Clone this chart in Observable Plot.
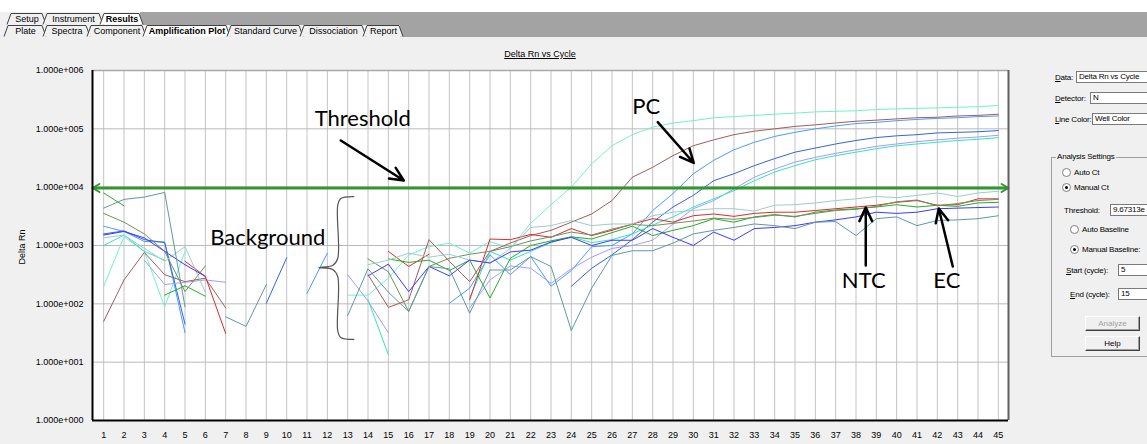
<!DOCTYPE html>
<html>
<head>
<meta charset="utf-8">
<script src="https://cdn.jsdelivr.net/npm/d3@7"></script>
<script src="https://cdn.jsdelivr.net/npm/@observablehq/plot@0.6"></script>
<style>
html, body { margin:0; padding:0; width:1147px; height:444px; overflow:hidden; background:#f0f0f0; font-family:"Liberation Sans", Arial, sans-serif; }
#chart { position:absolute; left:0; top:0; }
#tabs { position:absolute; left:0; top:0; }
#title { position:absolute; left:440px; width:200px; top:49px; text-align:center; font-size:9px; text-decoration:underline; }
#ylab { position:absolute; left:-8px; width:60px; top:242px; text-align:center; font-size:9px; transform:rotate(-90deg); }
.lbl { position:absolute; font-size:8px; letter-spacing:-0.2px; line-height:11px; white-space:nowrap; }
.box { position:absolute; height:12px; background:#fff; border:1px solid #7a7a7a; border-right:none; box-sizing:border-box; font-size:8px; letter-spacing:-0.2px; line-height:10px; padding-left:2px; white-space:nowrap; overflow:hidden; }
.radio { position:absolute; width:7px; height:7px; border-radius:50%; background:#fff; border:1px solid #808080; }
.radio.on::after { content:""; position:absolute; left:2px; top:2px; width:3px; height:3px; border-radius:50%; background:#000; }
.btn { position:absolute; width:55px; height:15px; box-sizing:border-box; border:1px solid; border-color:#ffffff #404040 #404040 #ffffff; background:#f0f0f0; font-size:8px; line-height:13px; text-align:center; box-shadow: inset -1px -1px 0 #a0a0a0; }
#group { position:absolute; left:1051px; top:157px; width:100px; height:200px; border:1px solid #a0a0a0; border-right:none; box-sizing:border-box; }
u { text-decoration:underline; }
</style>
</head>
<body>
<div id="chart"></div>
<svg id="tabs" width="1147" height="40"></svg>
<div id="title">Delta Rn vs Cycle</div>
<div id="ylab">Delta Rn</div>

<div class="lbl" style="left:1055px;top:72px"><u>D</u>ata:</div>
<div class="box" style="left:1076px;top:71px;width:80px">Delta Rn vs Cycle</div>
<div class="lbl" style="left:1055px;top:93px"><u>D</u>etector:</div>
<div class="box" style="left:1090px;top:92px;width:70px">N</div>
<div class="lbl" style="left:1055px;top:114px"><u>L</u>ine Color:</div>
<div class="box" style="left:1092px;top:113px;width:70px">Well Color</div>

<div id="group"></div>
<div class="lbl" style="left:1056px;top:151px;background:#f0f0f0;padding:0 1px">Analysis Settings</div>
<div class="radio" style="left:1062px;top:168px"></div>
<div class="lbl" style="left:1074px;top:167px">Auto Ct</div>
<div class="radio on" style="left:1062px;top:183px"></div>
<div class="lbl" style="left:1074px;top:182px">Manual Ct</div>
<div class="lbl" style="left:1064px;top:205px">Threshold:</div>
<div class="box" style="left:1110px;top:204px;width:45px">9.67313e</div>
<div class="radio" style="left:1070px;top:225px"></div>
<div class="lbl" style="left:1082px;top:224px">Auto Baseline</div>
<div class="radio on" style="left:1070px;top:245px"></div>
<div class="lbl" style="left:1082px;top:244px">Manual Baseline:</div>
<div class="lbl" style="left:1066px;top:265px"><u>S</u>tart (cycle):</div>
<div class="box" style="left:1118px;top:264px;width:40px">5</div>
<div class="lbl" style="left:1070px;top:289px"><u>E</u>nd (cycle):</div>
<div class="box" style="left:1118px;top:288px;width:40px">15</div>
<div class="btn" style="left:1085px;top:316px;color:#a0a0a0">Analyze</div>
<div class="btn" style="left:1085px;top:336px">Help</div>

<script>
// ---------- data ----------
const cycles = d3.range(1, 46);

const seriesNames = ["PC well 1", "PC well 2", "PC well 3", "PC well 4", "PC well 5", "PC well 6",
  "NTC red", "EC green", "NTC olive", "EC pale teal", "NTC blue", "EC teal"];
const seriesColors = ["#6ff2cf", "#a35c5c", "#4a9cff", "#3565d8", "#9d9dff", "#36e3bd",
  "#dd2a2a", "#2aaa2a", "#6f8f5e", "#9ccccc", "#3a3aff", "#5f9a9c"];

const pc1 = [200, 1410, 790, 89, 790, null, null, null, null, null, null, null, 141, 141, 275, 690, 955, 1100, 740, 1170, 890, 2400, 5000, 10000, 25100, 51300, 79400, 107000, 126000, 138000, 155000, 162000, 170000, 178000, 186000, 195000, 200000, 204000, 214000, 219000, 224000, 229000, 234000, 240000, 251000];
const pc2 = [50, 257, 760, 316, 240, 275, 85, null, null, null, null, null, null, 316, 87, 117, 1260, 537, 240, 794, 1100, 1480, 1820, 2510, 3470, 5890, 14800, 21900, 34700, 51300, 64600, 79400, 91200, 100000, 110000, 117000, 126000, 135000, 141000, 148000, 155000, 158000, 166000, 170000, 178000];
const pc3 = [2140, 1740, 1170, 1150, 32, null, null, null, null, null, 151, 741, null, null, null, null, null, 102, 186, 692, 316, 646, 200, 372, 955, 1000, 1580, 3980, 7760, 17000, 28800, 43700, 58900, 74100, 87100, 100000, 112000, 123000, 129000, 138000, 145000, 151000, 155000, 162000, 166000];
const pc4 = [1580, 1780, 1260, 1120, 45, null, null, null, 102, 617, null, null, null, null, null, null, null, null, null, null, null, null, null, 200, 407, 692, 1260, 2510, 4570, 7240, 12900, 17000, 23400, 30900, 39800, 46800, 55000, 63100, 70800, 75900, 79400, 85100, 87100, 89100, 93300];
const pc5 = [null, null, 562, 214, 234, 257, 234, null, null, null, null, null, 316, 112, 32, null, null, null, 85, 257, 447, 407, 224, 398, 631, 891, 1000, 1230, 2340, 4270, 5890, 9330, 14800, 20400, 26900, 32400, 38000, 43700, 50100, 55000, 60300, 64600, 69200, 72400, 77600];
const pc6 = [1000, 1510, 794, 562, null, null, null, null, null, null, null, null, null, 117, 13.5, null, null, null, 126, 794, 562, 794, 1120, 1410, 1120, 1260, 1580, 2240, 3090, 4570, 6310, 8710, 12900, 18200, 23400, 29500, 34700, 39800, 45700, 51300, 55000, 58900, 63100, 66100, 70800];
const neg1 = [null, null, null, null, 537, 295, 31, null, null, null, null, null, null, null, 794, 437, 708, null, 117, 1290, 1260, 1550, 1380, 1950, 1480, 1820, 2340, 2880, 2510, 3240, 3470, 3160, 3550, 3720, 3720, 3980, 4270, 4570, 4900, 5500, 5890, 4900, 5010, 6310, 6310];
const neg2 = [7940, 4790, null, 141, 204, 135, null, null, null, null, null, null, null, null, 589, 513, 562, 372, 562, 126, 603, 1000, 1200, 1410, 1290, 1660, 2140, 1480, 1820, 2190, 2880, 2510, 3090, 3390, 3090, 3720, 4070, 4270, 4570, 5010, 4570, 4900, 4680, 5370, 5500];
const neg3 = [3550, 2510, 1580, 794, 162, 447, null, null, null, null, null, null, null, 589, 355, 74, 437, 603, 708, 794, 955, 1200, 1410, 1700, 1510, 1910, 2290, 2190, 2400, 2630, 2950, 2820, 3020, 3310, 3160, 3550, 3980, 4170, 4680, 5620, 6030, 4790, 5250, 5890, 6170];
const neg4 = [1350, 1510, 891, 537, 955, 158, null, null, null, null, null, null, null, 468, 562, 741, 631, 708, 562, 501, 891, 2040, 2190, 2690, 2190, 2340, 2340, 3240, 3720, 3980, 4270, 4270, 3890, 4900, 5010, 5370, 5890, 6310, 6920, 6610, 7240, 7940, 6920, 7940, 8510];
const neg5 = [1510, 1740, 1350, 794, 468, 295, null, null, null, null, null, null, null, 302, 479, 162, 437, 302, 562, 501, 776, 832, 1150, 1380, 1000, 1230, 1230, 1950, 1380, 1000, 1700, 1230, 1950, 2040, 2190, 2510, 2750, 3090, 3720, 3550, 3720, 4270, 4370, 4470, 4570];
const neg6 = [4370, 6170, 6760, 8130, 89, null, 60, 41, 214, null, null, null, 63, 398, 158, 74, 437, 398, 69, 380, 380, 646, 437, 35, 186, 676, 813, 813, 1100, 1580, 1820, 2040, 2340, 2190, 1950, 2510, 2570, 1480, 2880, 3090, 2190, 2690, 2750, 2880, 3240];

const yTicks = [1, 10, 100, 1000, 10000, 100000, 1000000];
const yTickLabels = ["1.000e+000", "1.000e+001", "1.000e+002", "1.000e+003", "1.000e+004", "1.000e+005", "1.000e+006"];
const thresholdValue = 9673.13;

// annotations (data coordinates: cycle, Delta Rn)
const noteLabels = ["Threshold", "PC", "Background", "NTC", "EC"];
const noteCycles = [13.74, 27.68, 9.07, 38.38, 42.47];
const noteValues = [150000, 237000, 1370, 251, 251];
const arrowX1 = [12.66, 28.25, 38.48, 42.76];
const arrowY1 = [63000, 130000, 454, 437];
const arrowX2 = [15.76, 30.02, 38.48, 42.07];
const arrowY2 = [13000, 26000, 4480, 4300];
const braceCycles = [13.30, 12.66, 12.51, 12.51, 12.26, 11.58, 12.26, 12.51, 12.51, 12.66, 13.30];
const braceValues = [6900, 6400, 4850, 598, 454, 420, 388, 294, 34.9, 26.5, 24.5];

// ---------- build ----------
const allSeries = [pc1, pc2, pc3, pc4, pc5, pc6, neg1, neg2, neg3, neg4, neg5, neg6];
const rows = allSeries.flatMap((vals, s) => vals.map((v, i) => ({series: seriesNames[s], cycle: cycles[i], value: v == null ? NaN : v})));
const notes = noteLabels.map((t, i) => ({text: t, x: noteCycles[i], y: noteValues[i]}));
const arrows = arrowX1.map((x, i) => ({x1: x, y1: arrowY1[i], x2: arrowX2[i], y2: arrowY2[i]}));
const brace = braceCycles.map((x, i) => ({x, y: braceValues[i]}));
const xDomain = [0.45, 45.5];
const yDomain = [1, 1e6];
const thrArrows = [
  {x1: 3, x2: xDomain[0], y: thresholdValue},
  {x1: 43, x2: xDomain[1], y: thresholdValue}
];

const chart = Plot.plot({
  width: 1040,
  height: 444,
  marginLeft: 92,
  marginRight: 32,
  marginTop: 70,
  marginBottom: 24,
  style: {background: "transparent", fontFamily: "Liberation Sans, Arial, sans-serif", fontSize: "9px", color: "#000", overflow: "visible"},
  x: {domain: xDomain},
  y: {type: "log", domain: yDomain},
  color: {domain: seriesNames, range: seriesColors},
  marks: [
    Plot.frame({fill: "#ffffff", stroke: "none"}),
    Plot.ruleX(cycles, {stroke: "#c3c3c3", strokeWidth: 1}),
    Plot.ruleY(yTicks, {stroke: "#b9b9b9", strokeWidth: 1}),
    Plot.line(rows, {x: "cycle", y: "value", z: "series", stroke: "series", strokeWidth: 1}),
    Plot.ruleY([thresholdValue], {stroke: "#33952f", strokeWidth: 3}),
    Plot.arrow(thrArrows, {x1: "x1", x2: "x2", y1: "y", y2: "y", stroke: "#33952f", strokeWidth: 2, headLength: 6}),
    Plot.arrow(arrows, {x1: "x1", y1: "y1", x2: "x2", y2: "y2", stroke: "#000", strokeWidth: 2.5, headLength: 9, headAngle: 50}),
    Plot.line(brace, {x: "x", y: "y", stroke: "#555", strokeWidth: 1.2, curve: "catmull-rom"}),
    Plot.text(notes, {x: "x", y: "y", text: "text", fontSize: 22, fontFamily: "Lato, 'Open Sans', sans-serif", fill: "#000", textAnchor: "middle", lineAnchor: "middle"}),
    Plot.ruleY([yDomain[1]], {stroke: "#a8a8a8", strokeWidth: 1.5}),
    Plot.ruleX([xDomain[1]], {stroke: "#606060", strokeWidth: 2}),
    Plot.ruleX([xDomain[0]], {stroke: "#000", strokeWidth: 2}),
    Plot.ruleY([yDomain[0]], {stroke: "#000", strokeWidth: 2}),
    Plot.axisX(cycles, {tickSize: 0, tickPadding: 11, tickFormat: d => String(d), label: null, fontSize: 9}),
    Plot.axisY(yTicks, {tickSize: 0, tickPadding: 9, tickFormat: d => yTickLabels[yTicks.indexOf(d)], label: null, fontSize: 9})
  ]
});
document.getElementById("chart").appendChild(chart);

// ---------- tabs ----------
const tabsRow1 = ["Setup", "Instrument", "Results"];
const tabsRow1X = [7, 43, 100, 140];
const tabsRow2 = ["Plate", "Spectra", "Component", "Amplification Plot", "Standard Curve", "Dissociation", "Report"];
const tabsRow2X = [4, 43, 87, 143, 227, 300, 363, 400];
const svg = d3.select("#tabs");
svg.append("rect").attr("x", 0).attr("y", 0).attr("width", 1147).attr("height", 12).attr("fill", "#ffffff");
svg.append("rect").attr("x", 140).attr("y", 12).attr("width", 1007).attr("height", 13).attr("fill", "#a3a3a3");
svg.append("rect").attr("x", 400).attr("y", 25).attr("width", 747).attr("height", 12).attr("fill", "#a3a3a3");
function drawTabs(names, xs, top, bottom, bold) {
  names.forEach((n, i) => {
    const x0 = xs[i], x1 = xs[i + 1];
    const sel = n === bold;
    svg.append("path")
      .attr("d", `M${x0},${bottom} L${x0 + 4},${top} L${x1 - 1},${top} L${x1 + 3},${bottom}`)
      .attr("fill", sel ? "#ffffff" : "#f0f0f0").attr("stroke", "#404040").attr("stroke-width", 1);
    svg.append("text").attr("x", (x0 + x1) / 2 + 2).attr("y", bottom - 2.5)
      .attr("text-anchor", "middle").attr("font-size", 9)
      .attr("font-family", "Liberation Sans, Arial, sans-serif")
      .attr("font-weight", sel ? "bold" : "normal").text(n);
  });
}
drawTabs(tabsRow1, tabsRow1X, 13.5, 24.5, "Results");
drawTabs(tabsRow2, tabsRow2X, 25.5, 36.5, "Amplification Plot");
</script>
</body>
</html>
